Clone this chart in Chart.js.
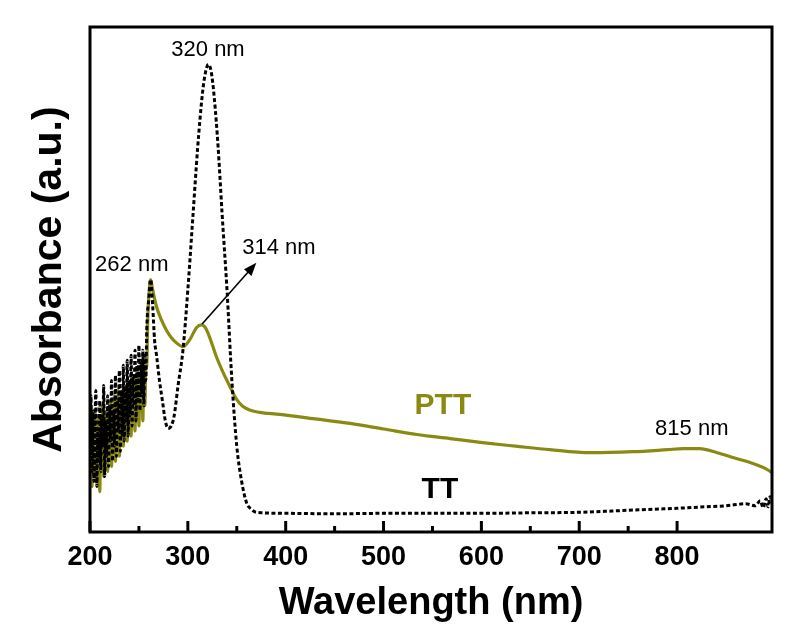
<!DOCTYPE html>
<html>
<head>
<meta charset="utf-8">
<script src="https://cdn.jsdelivr.net/npm/chart.js@4/dist/chart.umd.min.js"></script>
<style>
  html, body { margin: 0; padding: 0; background: #fff; }
  #wrap { width: 794px; height: 632px; }
</style>
</head>
<body>
<div id="wrap"><canvas id="uvChart"></canvas></div>
<script>
// UV-vis spectra, absorbance in arbitrary units
const ttWavelength = [200, 201, 202, 203, 204, 205, 206, 207, 208, 209, 210, 211, 212, 213, 214, 215, 216, 217, 218, 219,
    220, 221, 222, 223, 224, 225, 226, 227, 228, 229, 230, 231, 232, 233, 234, 235, 236, 237, 238, 239,
    240, 241, 242, 243, 244, 245, 246, 247, 248, 249, 250, 251, 252, 253, 254, 255, 256, 257, 258,
    260, 262, 264, 266, 268, 271, 274, 277, 280, 283, 286, 290, 295, 300, 305, 310, 315, 318, 321, 324, 327, 331, 335, 340, 345, 350, 355, 360, 365, 370,
    400, 450, 500, 550, 600, 650, 700, 750, 800, 830, 850, 870, 880, 885, 888, 891, 893, 895, 897];
const ttAbs = [0.16, 0.27, 0.12, 0.24, 0.10, 0.21, 0.28, 0.09, 0.20, 0.14, 0.26, 0.12, 0.23, 0.17, 0.29, 0.11, 0.22, 0.15, 0.27, 0.13,
    0.25, 0.18, 0.30, 0.14, 0.24, 0.17, 0.31, 0.15, 0.26, 0.20, 0.32, 0.16, 0.28, 0.19, 0.33, 0.18, 0.29, 0.22, 0.34, 0.19,
    0.30, 0.23, 0.35, 0.21, 0.31, 0.25, 0.36, 0.22, 0.33, 0.26, 0.37, 0.24, 0.34, 0.27, 0.36, 0.25, 0.35, 0.30, 0.40,
    0.46, 0.50, 0.45, 0.38, 0.35, 0.30, 0.26, 0.22, 0.205, 0.21, 0.23, 0.29, 0.36, 0.48, 0.62, 0.76, 0.87, 0.91, 0.926, 0.91, 0.86, 0.76, 0.63, 0.48, 0.30, 0.17, 0.10, 0.058, 0.045, 0.039,
    0.037, 0.036, 0.037, 0.037, 0.037, 0.038, 0.039, 0.043, 0.047, 0.050, 0.052, 0.056, 0.052, 0.062, 0.048, 0.066, 0.050, 0.070, 0.058];

const pttWavelength = [200, 201, 202, 203, 204, 205, 206, 207, 208, 209, 210, 211, 212, 213, 214, 215, 216, 217, 218, 219,
    220, 221, 222, 223, 224, 225, 226, 227, 228, 229, 230, 231, 232, 233, 234, 235, 236, 237, 238, 239,
    240, 241, 242, 243, 244, 245, 246, 247, 248, 249, 250, 251, 252, 253, 254, 255, 256, 257, 258,
    259, 261, 262, 264, 268, 273, 278, 283, 288, 295, 302, 309, 314, 318, 322, 329, 336, 343, 350, 356, 364, 373, 394, 430, 466, 500, 534, 568, 601, 635, 670, 711, 755, 790, 806, 823, 841, 858, 874, 885, 890, 895, 897];
const pttAbs = [0.14, 0.22, 0.09, 0.19, 0.12, 0.24, 0.10, 0.18, 0.13, 0.23, 0.08, 0.20, 0.15, 0.25, 0.11, 0.19, 0.14, 0.24, 0.12, 0.21,
    0.16, 0.26, 0.13, 0.22, 0.17, 0.27, 0.14, 0.23, 0.18, 0.28, 0.15, 0.24, 0.19, 0.28, 0.17, 0.25, 0.20, 0.29, 0.18, 0.27,
    0.21, 0.30, 0.19, 0.27, 0.22, 0.31, 0.20, 0.29, 0.23, 0.32, 0.21, 0.30, 0.24, 0.33, 0.22, 0.31, 0.25, 0.32, 0.33,
    0.42, 0.49, 0.50, 0.48, 0.446, 0.42, 0.40, 0.385, 0.375, 0.367, 0.381, 0.405, 0.41, 0.404, 0.387, 0.348, 0.316, 0.288, 0.262, 0.249, 0.241, 0.237, 0.233, 0.224, 0.215, 0.204, 0.193, 0.185, 0.177, 0.170, 0.163, 0.157, 0.159, 0.163, 0.165, 0.165, 0.157, 0.147, 0.138, 0.13, 0.126, 0.12, 0.118];

const xTickLabels = [200, 300, 400, 500, 600, 700, 800];

// peak labels: [text, wavelength, absorbance]
const peakLabels = [
    ["320 nm", 320.6, 0.955],
    ["262 nm", 242.7, 0.528],
    ["314 nm", 393, 0.563],
    ["815 nm", 815, 0.205]
];
const seriesLabels = [
    ["PTT", 560.7, 0.25, "#8a8a12"],
    ["TT", 557.6, 0.084, "#000000"]
];
const arrowFrom = [314.6, 0.412];
const arrowTo = [370, 0.533];

const fontFam = 'Arial, "Liberation Sans", Helvetica, sans-serif';

const toPoints = (xs, ys) => xs.map((x, i) => ({ x: x, y: ys[i] }));

// frame, inward ticks, text labels and arrow
const extrasPlugin = {
    id: "extras",
    afterDraw(chart) {
        const { ctx, chartArea, scales } = chart;
        const xs = scales.x, ys = scales.y;
        ctx.save();
        ctx.strokeStyle = "#000";
        ctx.lineWidth = 3;
        ctx.strokeRect(chartArea.left, chartArea.top, chartArea.right - chartArea.left, chartArea.bottom - chartArea.top);

        // inward ticks
        xs.ticks.forEach(t => {
            if (t.value % 50 !== 0) return;
            const px = xs.getPixelForValue(t.value);
            const len = t.value % 100 === 0 ? 11 : 6;
            ctx.beginPath();
            ctx.moveTo(px, chartArea.bottom);
            ctx.lineTo(px, chartArea.bottom - len);
            ctx.stroke();
        });

        ctx.textAlign = "center";
        ctx.textBaseline = "middle";
        ctx.fillStyle = "#000";
        ctx.font = "22px " + fontFam;
        peakLabels.forEach(p => {
            ctx.fillText(p[0], xs.getPixelForValue(p[1]), ys.getPixelForValue(p[2]));
        });
        ctx.font = "bold 30px " + fontFam;
        seriesLabels.forEach(s => {
            ctx.fillStyle = s[3];
            ctx.fillText(s[0], xs.getPixelForValue(s[1]), ys.getPixelForValue(s[2]));
        });

        // arrow to the 314 nm shoulder label
        const x1 = xs.getPixelForValue(arrowFrom[0]), y1 = ys.getPixelForValue(arrowFrom[1]);
        const x2 = xs.getPixelForValue(arrowTo[0]), y2 = ys.getPixelForValue(arrowTo[1]);
        const ang = Math.atan2(y2 - y1, x2 - x1);
        ctx.strokeStyle = "#000";
        ctx.fillStyle = "#000";
        ctx.lineWidth = 1.6;
        ctx.beginPath();
        ctx.moveTo(x1, y1);
        ctx.lineTo(x2 - 8 * Math.cos(ang), y2 - 8 * Math.sin(ang));
        ctx.stroke();
        ctx.beginPath();
        ctx.moveTo(x2, y2);
        ctx.lineTo(x2 - 13 * Math.cos(ang) + 5 * Math.sin(ang), y2 - 13 * Math.sin(ang) - 5 * Math.cos(ang));
        ctx.lineTo(x2 - 13 * Math.cos(ang) - 5 * Math.sin(ang), y2 - 13 * Math.sin(ang) + 5 * Math.cos(ang));
        ctx.closePath();
        ctx.fill();
        ctx.restore();
    }
};

const ctx = document.getElementById("uvChart").getContext("2d");
const uvChart = new Chart(ctx, {
    type: "line",
    data: {
        datasets: [
            {
                label: "TT",
                data: toPoints(ttWavelength, ttAbs),
                borderColor: "#000000",
                borderWidth: 3,
                borderDash: [4, 2.5],
                pointRadius: 0,
                cubicInterpolationMode: "monotone"
            },
            {
                label: "PTT",
                data: toPoints(pttWavelength, pttAbs),
                borderColor: "#8a8a12",
                borderWidth: 3.2,
                pointRadius: 0,
                cubicInterpolationMode: "monotone"
            }
        ]
    },
    options: {
        responsive: true,
        maintainAspectRatio: false,
        animation: false,
        layout: { padding: { top: 27, right: 22, left: 0, bottom: 0 } },
        plugins: {
            legend: { display: false },
            tooltip: { enabled: false }
        },
        scales: {
            x: {
                type: "linear",
                min: 200,
                max: 897,
                grid: { display: false, drawTicks: false },
                border: { display: false },
                ticks: {
                    stepSize: 50,
                    autoSkip: false,
                    maxRotation: 0,
                    padding: 9,
                    color: "#000",
                    font: { family: fontFam, size: 27, weight: "bold" },
                    callback: v => xTickLabels.includes(v) ? String(v) : ""
                },
                title: {
                    display: true,
                    text: "Wavelength (nm)",
                    color: "#000",
                    font: { family: fontFam, size: 38, weight: "bold" },
                    padding: { top: 0, bottom: 6 }
                },
                afterFit: s => { s.height = 100; }
            },
            y: {
                min: 0,
                max: 1,
                grid: { display: false, drawTicks: false },
                border: { display: false },
                ticks: { display: false },
                title: {
                    display: true,
                    text: "Absorbance (a.u.)",
                    color: "#000",
                    font: { family: fontFam, size: 41, weight: "bold" },
                    padding: { top: 25, bottom: 0 }
                },
                afterFit: s => { s.width = 90; }
            }
        }
    },
    plugins: [extrasPlugin]
});
</script>
</body>
</html>
